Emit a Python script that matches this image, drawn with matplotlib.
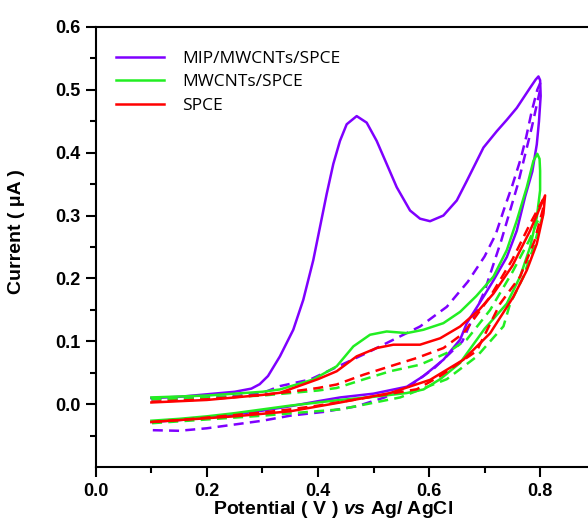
import matplotlib
matplotlib.use("Agg")
import matplotlib.pyplot as plt

plt.rcParams["font.family"] = ["Liberation Sans", "DejaVu Sans"]
plt.rcParams["mathtext.fontset"] = "custom"
plt.rcParams["mathtext.bfit"] = "Liberation Sans:bold:italic"

# MIP/MWCNTs/SPCE, solid (forward then return)
mip_v = [0.10, 0.15, 0.20, 0.25, 0.28, 0.295, 0.31, 0.3315, 0.3555, 0.3735, 0.3915, 0.4036, 0.4156,
         0.4276, 0.4396, 0.4517, 0.4697, 0.4877, 0.5057, 0.5237, 0.5418, 0.5658, 0.5838, 0.6018,
         0.6258, 0.650, 0.668, 0.698, 0.722, 0.740, 0.758, 0.782, 0.792, 0.797,
         0.800, 0.801, 0.798, 0.794, 0.786, 0.773, 0.758, 0.740, 0.716, 0.698, 0.668, 0.656, 0.626,
         0.59, 0.56, 0.50, 0.44, 0.40, 0.35, 0.30, 0.25, 0.20, 0.15, 0.10]
mip_i = [0.010, 0.012, 0.016, 0.020, 0.025, 0.032, 0.045, 0.0763, 0.1185, 0.166, 0.229, 0.2817, 0.334,
         0.382, 0.4186, 0.445, 0.458, 0.4476, 0.4186, 0.382, 0.345, 0.308, 0.295, 0.291,
         0.300, 0.324, 0.355, 0.408, 0.434, 0.452, 0.471, 0.503, 0.516, 0.521,
         0.515, 0.490, 0.450, 0.413, 0.370, 0.330, 0.276, 0.234, 0.197, 0.171, 0.129, 0.103, 0.071,
         0.045, 0.028, 0.017, 0.011, 0.005, -0.003, -0.010, -0.016, -0.021, -0.025, -0.028]

# MIP/MWCNTs/SPCE, dashed
mip_b_v = [0.10, 0.15, 0.20, 0.25, 0.30, 0.3315, 0.386, 0.4877, 0.5357, 0.5838, 0.632, 0.67, 0.70,
           0.72, 0.735, 0.75, 0.765, 0.775, 0.785, 0.795, 0.80,
           0.80, 0.785, 0.76, 0.73, 0.70, 0.66, 0.61, 0.565, 0.52, 0.47, 0.41, 0.35, 0.30, 0.25,
           0.20, 0.15, 0.10]
mip_b_i = [0.008, 0.009, 0.011, 0.013, 0.018, 0.029, 0.0395, 0.0816, 0.1027, 0.1237, 0.155, 0.195,
           0.235, 0.270, 0.310, 0.348, 0.390, 0.425, 0.466, 0.500, 0.510,
           0.500, 0.440, 0.350, 0.260, 0.180, 0.100, 0.058, 0.029, 0.011, -0.003, -0.012, -0.018,
           -0.026, -0.032, -0.038, -0.042, -0.041]

# MWCNTs/SPCE, solid
mw_v = [0.10, 0.20, 0.30, 0.3315, 0.3915, 0.4337, 0.4637, 0.4937, 0.5237, 0.56, 0.5898, 0.6258,
        0.656, 0.685, 0.716, 0.740, 0.758, 0.776, 0.788, 0.795,
        0.799, 0.80, 0.80, 0.794, 0.782, 0.764, 0.74, 0.70, 0.656, 0.62, 0.59, 0.56, 0.50, 0.44,
        0.40, 0.35, 0.30, 0.25, 0.20, 0.15, 0.10]
mw_i = [0.011, 0.014, 0.020, 0.0237, 0.0395, 0.0605, 0.0921, 0.1106, 0.1158, 0.1132, 0.1185, 0.129,
        0.147, 0.172, 0.203, 0.245, 0.292, 0.345, 0.387, 0.398,
        0.390, 0.371, 0.340, 0.297, 0.250, 0.203, 0.160, 0.120, 0.066, 0.040, 0.0237, 0.018, 0.012,
        0.007, 0.003, -0.002, -0.008, -0.014, -0.019, -0.023, -0.026]

# MWCNTs/SPCE, dashed
mw_b_v = [0.10, 0.20, 0.30, 0.35, 0.40, 0.4337, 0.4817, 0.53, 0.5838, 0.632, 0.668, 0.71, 0.75, 0.78,
          0.80,
          0.805, 0.80, 0.788, 0.77, 0.746, 0.734, 0.686, 0.632, 0.548, 0.44, 0.368, 0.30, 0.25,
          0.20, 0.15, 0.10]
mw_b_i = [0.008, 0.010, 0.014, 0.018, 0.022, 0.026, 0.0395, 0.0526, 0.063, 0.0816, 0.103, 0.150,
          0.210, 0.260, 0.300,
          0.300, 0.287, 0.250, 0.203, 0.160, 0.124, 0.076, 0.040, 0.011, -0.008, -0.013, -0.018,
          -0.021, -0.024, -0.027, -0.030]

# SPCE, solid
sp_v = [0.10, 0.20, 0.30, 0.3315, 0.40, 0.4337, 0.4697, 0.5057, 0.5357, 0.5838, 0.62, 0.656, 0.69,
        0.716, 0.75, 0.782, 0.80, 0.809,
        0.806, 0.794, 0.776, 0.752, 0.71, 0.662, 0.602, 0.53, 0.44, 0.35, 0.30, 0.25, 0.20, 0.15,
        0.10]
sp_i = [0.003, 0.007, 0.015, 0.0184, 0.040, 0.0526, 0.0763, 0.0895, 0.0948, 0.0948, 0.105, 0.1237,
        0.150, 0.176, 0.220, 0.276, 0.313, 0.332,
        0.303, 0.255, 0.213, 0.171, 0.113, 0.071, 0.039, 0.018, 0.003, -0.011, -0.015, -0.019,
        -0.022, -0.025, -0.028]

# SPCE, dashed
sp_b_v = [0.10, 0.20, 0.30, 0.35, 0.40, 0.4337, 0.4817, 0.53, 0.578, 0.626, 0.662, 0.71, 0.75, 0.782,
          0.805,
          0.805, 0.79, 0.764, 0.728, 0.686, 0.62, 0.578, 0.47, 0.40, 0.35, 0.30, 0.25, 0.20, 0.15, 0.10]
sp_b_i = [0.004, 0.008, 0.015, 0.020, 0.026, 0.0316, 0.047, 0.0605, 0.0737, 0.0895, 0.113, 0.171,
          0.230, 0.287, 0.325,
          0.310, 0.260, 0.203, 0.160, 0.085, 0.045, 0.024, 0.008, -0.002, -0.008, -0.013, -0.017,
          -0.021, -0.025, -0.028]

labels = ["MIP/MWCNTs/SPCE", "MWCNTs/SPCE", "SPCE"]
colors = ["#7f00ff", "#22ee22", "#ff0000"]

fig = plt.figure(figsize=(5.88, 5.26), dpi=100)
ax = fig.add_axes([0.163, 0.1116, 0.85, 0.8376])

lw = 1.8
dash = (4, 2.5)
curves = [(mip_v, mip_i, mip_b_v, mip_b_i), (mw_v, mw_i, mw_b_v, mw_b_i), (sp_v, sp_i, sp_b_v, sp_b_i)]
for (v, i, bv, bi), c, lab in zip(curves, colors, labels):
    ax.plot(v, i, color=c, lw=lw, label=lab, solid_joinstyle="round")
    ax.plot(bv, bi, color=c, lw=lw, dashes=dash)

ax.set_xlim(0, 0.9)
ax.set_ylim(-0.1, 0.6)
ax.set_xticks([0.0, 0.2, 0.4, 0.6, 0.8])
ax.set_xticks([0.1, 0.3, 0.5, 0.7], minor=True)
ax.set_yticks([0.0, 0.1, 0.2, 0.3, 0.4, 0.5, 0.6])
ax.set_yticks([-0.05, 0.05, 0.15, 0.25, 0.35, 0.45, 0.55], minor=True)
ax.xaxis.set_major_formatter(plt.FormatStrFormatter("%.1f"))
ax.yaxis.set_major_formatter(plt.FormatStrFormatter("%.1f"))
ax.tick_params(which="major", direction="out", length=7, width=1.5, labelsize=13, pad=4)
ax.tick_params(which="minor", direction="out", length=4, width=1.5)
for lbl in ax.get_xticklabels() + ax.get_yticklabels():
    lbl.set_fontweight("bold")
for s in ax.spines.values():
    s.set_linewidth(1.5)

ax.set_ylabel("Current ( \u03bcA )", fontsize=14, fontweight="bold")
ax.yaxis.set_label_coords(-0.142, 0.534)
ax.set_xlabel(r"Potential ( V ) $\mathbfit{vs}$ Ag/ AgCl", fontsize=14, fontweight="bold")
ax.xaxis.set_label_coords(0.475, -0.073)

ax.legend(loc="upper left", bbox_to_anchor=(0.04, 0.946), frameon=False, handlelength=2.8,
          handletextpad=1.0, borderpad=0, borderaxespad=0, labelspacing=0.43,
          prop={"family": "Open Sans", "size": 12.5})

fig.savefig("out.png", dpi=100)
